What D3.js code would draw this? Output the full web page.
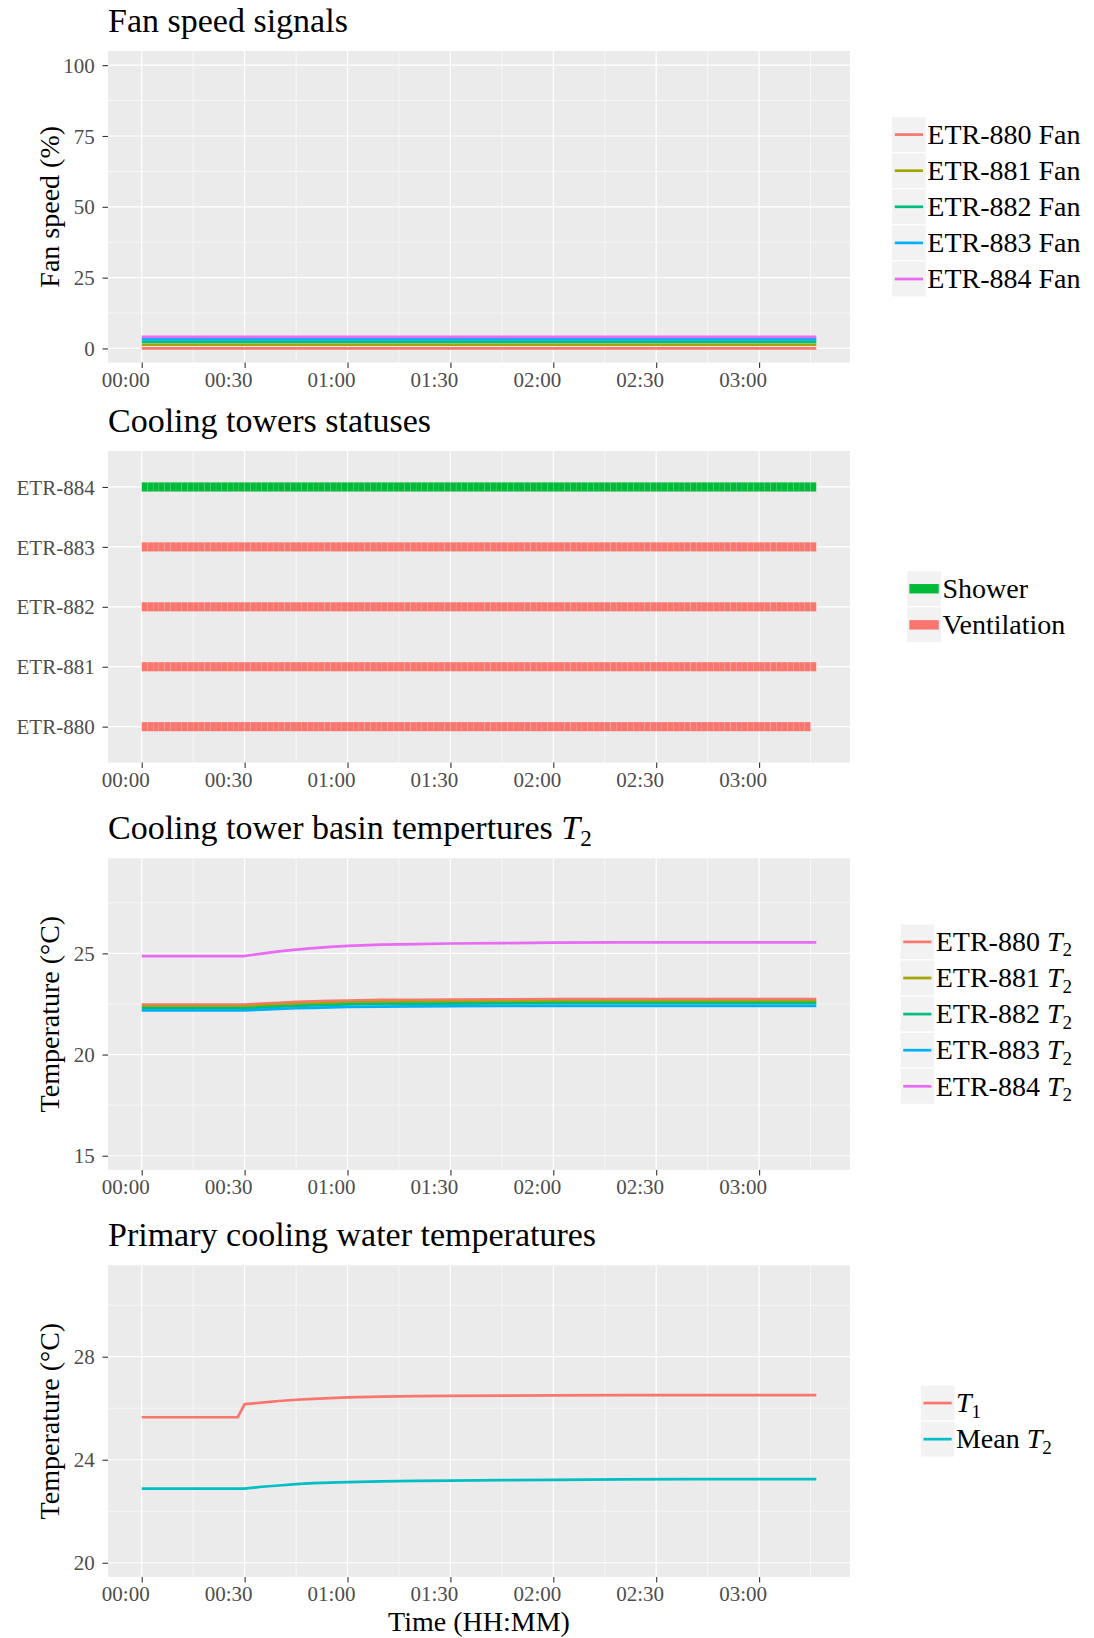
<!DOCTYPE html>
<html>
<head>
<meta charset="utf-8">
<script src="https://cdn.jsdelivr.net/npm/d3@7"></script>
<style>
  html, body { margin: 0; padding: 0; background: #ffffff; }
  svg { display: block; font-family: "Liberation Serif", "Times New Roman", serif; }
</style>
</head>
<body>
<svg id="chart" width="1094" height="1638"></svg>
<script>
// ---------------- data ----------------
const towers = ["ETR-880", "ETR-881", "ETR-882", "ETR-883", "ETR-884"];
const timeTicks = [0, 30, 60, 90, 120, 150, 180];            // minutes
const timeTickLabels = ["00:00", "00:30", "01:00", "01:30", "02:00", "02:30", "03:00"];
const timeMinorTicks = [15, 45, 75, 105, 135, 165, 195];
const lastSampleMin = 196.67;

// fan speed signals (%)
const fanTimes = [0, 196.67];
const fan880 = [0, 0];
const fan881 = [1.3, 1.3];
const fan882 = [2.3, 2.3];
const fan883 = [3.2, 3.2];
const fan884 = [4.1, 4.1];
const fanTicks = [0, 25, 50, 75, 100];
const fanMinorTicks = [12.5, 37.5, 62.5, 87.5];
const fanLimits = [0, 100];

// cooling tower operating status, sampled every 100 s
const statusLabels = ["Shower", "Ventilation"];
const towerStatus = ["Ventilation", "Ventilation", "Ventilation", "Ventilation", "Shower"];
const statusSampleCounts = [117, 118, 118, 118, 118];
const statusStepMin = 100 / 60;

// basin temperatures T2 (°C)
const basinTimes = [0, 28, 30, 35, 40, 45, 50, 55, 60, 70, 80, 90, 105, 120, 140, 160, 180, 196.67];
const basin880 = [22.47, 22.47, 22.47, 22.52, 22.56, 22.60, 22.63, 22.65, 22.67, 22.70, 22.71, 22.72, 22.73, 22.74, 22.74, 22.74, 22.74, 22.74];
const basin881 = [22.37, 22.37, 22.37, 22.42, 22.46, 22.49, 22.52, 22.54, 22.57, 22.59, 22.60, 22.61, 22.62, 22.63, 22.63, 22.63, 22.63, 22.63];
const basin882 = [22.28, 22.28, 22.28, 22.33, 22.37, 22.40, 22.43, 22.45, 22.48, 22.50, 22.51, 22.52, 22.53, 22.54, 22.54, 22.54, 22.54, 22.54];
const basin883 = [22.18, 22.18, 22.18, 22.22, 22.26, 22.29, 22.31, 22.33, 22.35, 22.37, 22.38, 22.39, 22.40, 22.41, 22.41, 22.41, 22.41, 22.41];
const basin884 = [24.87, 24.87, 24.87, 24.99, 25.10, 25.19, 25.26, 25.32, 25.37, 25.43, 25.46, 25.49, 25.51, 25.53, 25.54, 25.54, 25.54, 25.54];
const basinTicks = [15, 20, 25];
const basinMinorTicks = [17.5, 22.5, 27.5];
const basinLimits = [15, 29];

// primary cooling water temperatures (°C)
const primaryTimes = [0, 28, 30, 35, 40, 45, 50, 55, 60, 70, 80, 90, 105, 120, 140, 160, 180, 196.67];
const supplyT1 = [25.65, 25.65, 26.16, 26.22, 26.28, 26.33, 26.36, 26.39, 26.42, 26.45, 26.47, 26.48, 26.49, 26.50, 26.51, 26.51, 26.51, 26.51];
const meanT2 = [22.88, 22.88, 22.88, 22.95, 23.00, 23.05, 23.09, 23.11, 23.13, 23.16, 23.18, 23.19, 23.21, 23.22, 23.24, 23.25, 23.25, 23.25];
const primaryTicks = [20, 24, 28];
const primaryMinorTicks = [22, 26, 30];
const primaryLimits = [20, 31];

// ---------------- look ----------------
const towerColors = ["#F8766D", "#A3A500", "#00BF7D", "#00B0F6", "#E76BF3"];
const statusColors = { "Shower": "#00BA38", "Ventilation": "#F8766D" };
const primaryColors = ["#F8766D", "#00BFC4"];
const PANEL_BG = "#EBEBEB";
const KEY_BG = "#F2F2F2";
const TICK_TEXT = "#4D4D4D";
const TICK_LINE = "#333333";
const X_RANGE = [108, 850];
const PANEL_TOPS = [51, 451, 858.3, 1265.3];
const PANEL_H = 311.6;
const LEGEND_CX = 986;
const TITLE_SIZE = 34, LEGEND_SIZE = 28, TICK_SIZE = 21, AXIS_TITLE_SIZE = 28;

const svg = d3.select("#chart");

const expand = (lim, k = 0.05) => { const r = lim[1] - lim[0]; return [lim[0] - k * r, lim[1] + k * r]; };
const x = d3.scaleLinear().domain(expand([0, lastSampleMin])).range(X_RANGE);

// writes text made of plain / italic / subscript pieces
function richText(sel, parts) {
  parts.forEach(p => {
    const t = sel.append("tspan").text(p.text);
    if (p.italic) t.attr("font-style", "italic");
    if (p.sub) t.attr("font-size", "0.68em").attr("dy", "0.28em");
  });
  return sel;
}
const T2 = [{ text: "T", italic: true }, { text: "2", sub: true }];
const T1 = [{ text: "T", italic: true }, { text: "1", sub: true }];

function drawPanel(cfg) {
  const top = cfg.top, bottom = top + PANEL_H;
  const y = cfg.y.range([bottom, top]);
  const g = svg.append("g");

  g.append("rect").attr("x", X_RANGE[0]).attr("y", top)
    .attr("width", X_RANGE[1] - X_RANGE[0]).attr("height", PANEL_H).attr("fill", PANEL_BG);

  const grid = g.append("g").attr("stroke", "#ffffff").attr("fill", "none");
  grid.selectAll(".mx").data(timeMinorTicks.filter(t => x(t) < X_RANGE[1])).join("line")
    .attr("x1", d => x(d)).attr("x2", d => x(d)).attr("y1", top).attr("y2", bottom).attr("stroke-width", 0.6);
  grid.selectAll(".my").data(cfg.yMinor || []).join("line")
    .attr("x1", X_RANGE[0]).attr("x2", X_RANGE[1]).attr("y1", d => y(d)).attr("y2", d => y(d)).attr("stroke-width", 0.6);
  grid.selectAll(".Mx").data(timeTicks).join("line")
    .attr("x1", d => x(d)).attr("x2", d => x(d)).attr("y1", top).attr("y2", bottom).attr("stroke-width", 1.2);
  grid.selectAll(".My").data(cfg.yTicks).join("line")
    .attr("x1", X_RANGE[0]).attr("x2", X_RANGE[1]).attr("y1", d => y(d)).attr("y2", d => y(d)).attr("stroke-width", 1.2);

  // x axis
  const xa = g.append("g").attr("transform", `translate(0,${bottom})`)
    .call(d3.axisBottom(x).tickValues(timeTicks).tickFormat((d, i) => timeTickLabels[i])
      .tickSize(5.5).tickSizeOuter(0))
    .attr("font-family", null).attr("font-size", null);
  xa.select(".domain").remove();
  xa.selectAll(".tick line").attr("stroke", TICK_LINE).attr("stroke-width", 1.1);
  xa.selectAll(".tick text").attr("fill", TICK_TEXT).attr("font-size", TICK_SIZE)
    .attr("x", -16.5).attr("y", 24.5).attr("dy", 0);

  // y axis
  const ya = g.append("g").attr("transform", `translate(${X_RANGE[0]},0)`)
    .call(d3.axisLeft(y).tickValues(cfg.yTicks).tickFormat(cfg.yFormat || (d => d))
      .tickSize(5.5).tickPadding(7.8).tickSizeOuter(0))
    .attr("font-family", null).attr("font-size", null);
  ya.select(".domain").remove();
  ya.selectAll(".tick line").attr("stroke", TICK_LINE).attr("stroke-width", 1.1);
  ya.selectAll(".tick text").attr("fill", TICK_TEXT).attr("font-size", TICK_SIZE)
    .attr("dy", "0.34em");

  // title
  richText(g.append("text").attr("x", X_RANGE[0]).attr("y", top - 19)
    .attr("font-size", TITLE_SIZE).attr("fill", "#000"), cfg.title);

  if (cfg.yTitle) {
    g.append("text").attr("transform", `translate(59,${(top + bottom) / 2}) rotate(-90)`)
      .attr("text-anchor", "middle").attr("font-size", AXIS_TITLE_SIZE).attr("fill", "#000")
      .text(cfg.yTitle);
  }
  return { g, y, top, bottom };
}

function drawLines(p, times, seriesList, colors) {
  const line = d3.line().x((d, i) => x(times[i])).y(d => p.y(d));
  p.g.append("g").attr("fill", "none").attr("stroke-width", 2.7).attr("stroke-linejoin", "round")
    .selectAll("path").data(seriesList).join("path")
    .attr("stroke", (d, i) => colors[i]).attr("d", d => line(d));
}

function drawLegend(p, items, kind) {
  const keyW = 34.8, keyH = 36.1;
  const lg = p.g.append("g");
  const cy = (p.top + p.bottom) / 2;
  const y0 = cy - keyH * items.length / 2;
  const labels = lg.selectAll("text").data(items).join("text")
    .attr("font-size", LEGEND_SIZE).attr("fill", "#000")
    .attr("y", (d, i) => y0 + keyH * i + keyH / 2).attr("dy", "0.33em");
  labels.each(function (d) { richText(d3.select(this), d.parts); });
  const maxW = d3.max(labels.nodes(), n => n.getComputedTextLength());
  const left = LEGEND_CX - (keyW + 1 + maxW) / 2;
  labels.attr("x", left + keyW + 1);
  items.forEach((d, i) => {
    const ky = y0 + keyH * i;
    lg.append("rect").attr("x", left).attr("y", ky).attr("width", keyW).attr("height", keyH)
      .attr("fill", KEY_BG).attr("stroke", "#ffffff").attr("stroke-width", 1.2);
    if (kind === "line") {
      lg.append("line").attr("x1", left + 3.3).attr("x2", left + keyW - 3.3)
        .attr("y1", ky + keyH / 2).attr("y2", ky + keyH / 2)
        .attr("stroke", d.color).attr("stroke-width", 2.7);
    } else {
      lg.append("rect").attr("x", left + 2.7).attr("y", ky + keyH / 2 - 4.7)
        .attr("width", keyW - 5.4).attr("height", 9.4).attr("fill", d.color);
    }
  });
}

// ---- 1. fan speed signals ----
const p1 = drawPanel({
  top: PANEL_TOPS[0], y: d3.scaleLinear().domain(expand(fanLimits)),
  yTicks: fanTicks, yMinor: fanMinorTicks,
  title: [{ text: "Fan speed signals" }], yTitle: "Fan speed (%)"
});
drawLines(p1, fanTimes, [fan880, fan881, fan882, fan883, fan884], towerColors);
drawLegend(p1, towers.map((t, i) => ({ parts: [{ text: t + " Fan" }], color: towerColors[i] })), "line");

// ---- 2. cooling tower statuses ----
const p2 = drawPanel({
  top: PANEL_TOPS[1], y: d3.scaleLinear().domain([0.4, towers.length + 0.6]),
  yTicks: d3.range(1, towers.length + 1), yFormat: d => towers[d - 1],
  title: [{ text: "Cooling towers statuses" }]
});
const tiles = [];
towers.forEach((t, i) => {
  for (let k = 0; k < statusSampleCounts[i]; k++) {
    tiles.push({ row: i + 1, t0: k * statusStepMin, t1: (k + 1) * statusStepMin, status: towerStatus[i] });
  }
});
p2.g.append("g").selectAll("rect").data(tiles).join("rect")
  .attr("x", d => x(d.t0)).attr("width", d => x(d.t1) - x(d.t0))
  .attr("y", d => p2.y(d.row) - 4.6).attr("height", 9.2)
  .attr("fill", d => statusColors[d.status])
  .attr("stroke", "rgba(255,255,255,0.16)").attr("stroke-width", 0.5);
drawLegend(p2, statusLabels.map(s => ({ parts: [{ text: s }], color: statusColors[s] })), "fill");

// ---- 3. basin temperatures ----
const p3 = drawPanel({
  top: PANEL_TOPS[2], y: d3.scaleLinear().domain(expand(basinLimits)),
  yTicks: basinTicks, yMinor: basinMinorTicks,
  title: [{ text: "Cooling tower basin tempertures " }, ...T2], yTitle: "Temperature (°C)"
});
drawLines(p3, basinTimes, [basin880, basin881, basin882, basin883, basin884], towerColors);
drawLegend(p3, towers.map((t, i) => ({ parts: [{ text: t + " " }, ...T2], color: towerColors[i] })), "line");

// ---- 4. primary cooling water ----
const p4 = drawPanel({
  top: PANEL_TOPS[3], y: d3.scaleLinear().domain(expand(primaryLimits)),
  yTicks: primaryTicks, yMinor: primaryMinorTicks,
  title: [{ text: "Primary cooling water temperatures" }], yTitle: "Temperature (°C)"
});
drawLines(p4, primaryTimes, [supplyT1, meanT2], primaryColors);
drawLegend(p4, [{ parts: T1, color: primaryColors[0] }, { parts: [{ text: "Mean " }, ...T2], color: primaryColors[1] }], "line");

svg.append("text").attr("x", (X_RANGE[0] + X_RANGE[1]) / 2).attr("y", 1630.5)
  .attr("text-anchor", "middle").attr("font-size", AXIS_TITLE_SIZE).attr("fill", "#000")
  .text("Time (HH:MM)");
</script>
</body>
</html>
